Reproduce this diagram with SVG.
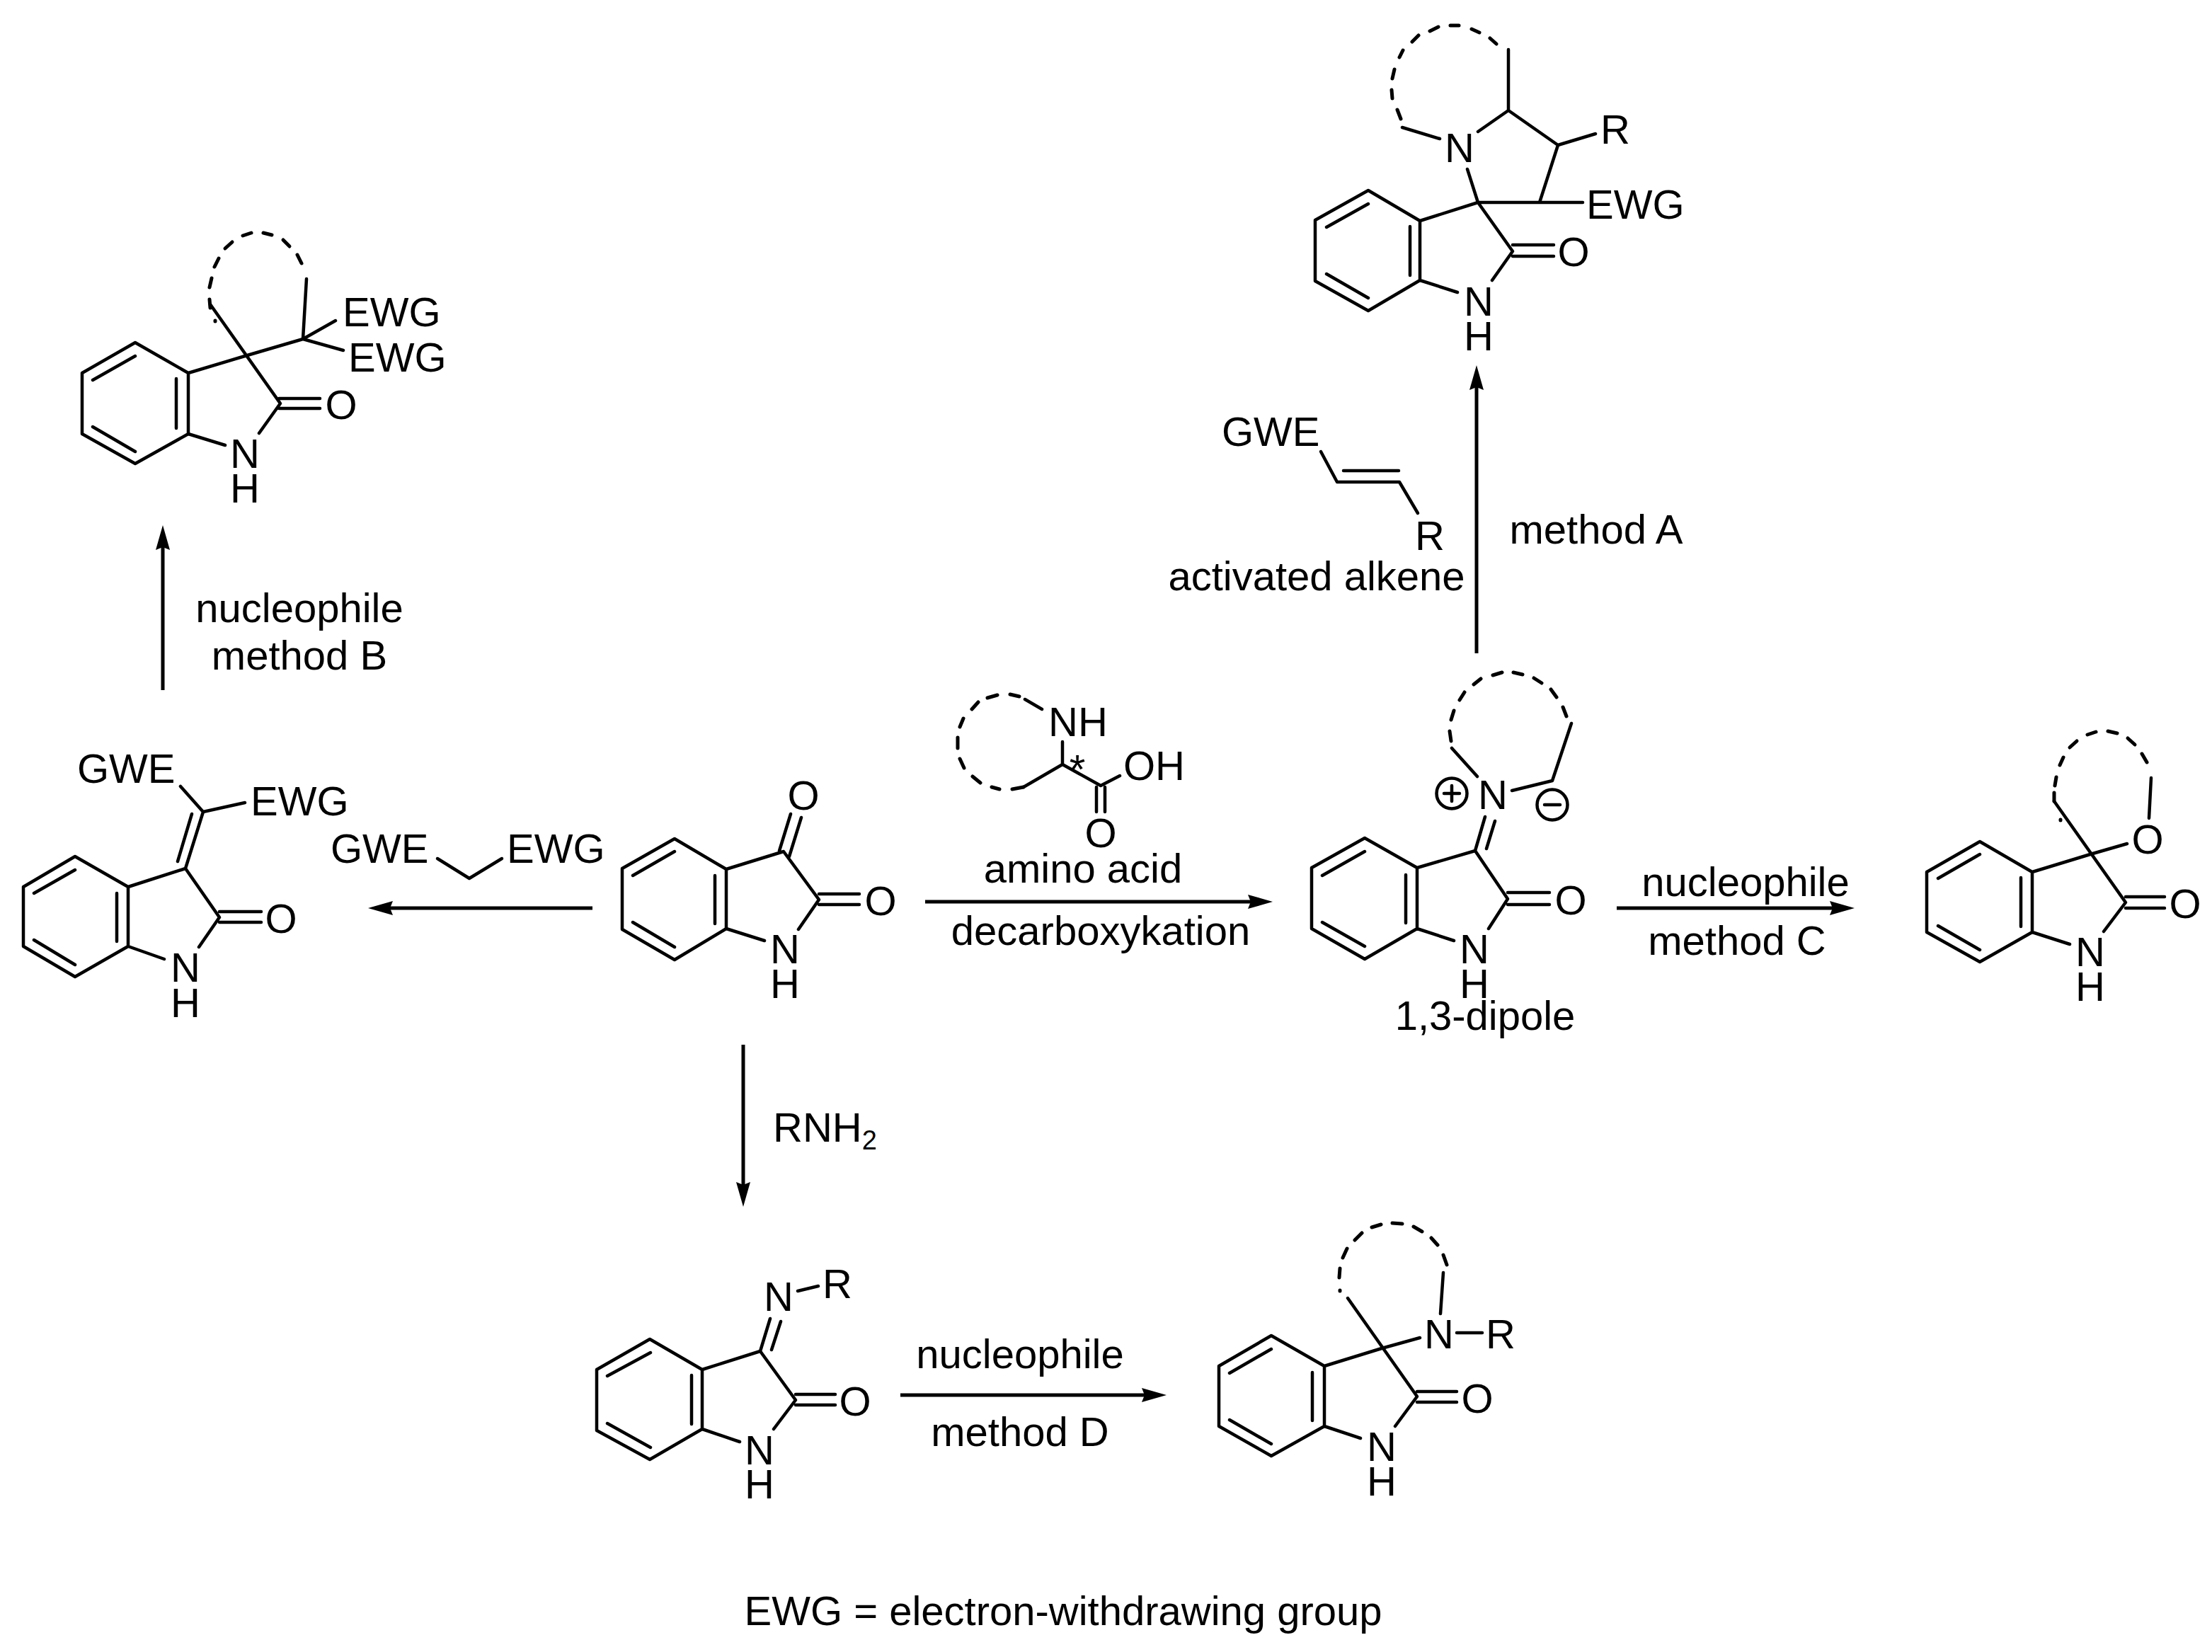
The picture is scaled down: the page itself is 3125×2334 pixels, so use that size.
<svg xmlns="http://www.w3.org/2000/svg" width="3125" height="2334" viewBox="0 0 3125 2334">
<style>
.b{fill:none;stroke:#000;stroke-width:4.5;stroke-linecap:round;stroke-linejoin:round}
.d{fill:none;stroke:#000;stroke-width:5;stroke-linecap:round}
.a{fill:none;stroke:#000;stroke-width:5;marker-end:url(#ah)}
text{font-family:"Liberation Sans",Arial,sans-serif;font-size:58px;fill:#000}
.m{text-anchor:middle}
.s{font-size:38px}
</style>
<defs>
<marker id="ah" markerUnits="userSpaceOnUse" markerWidth="36" markerHeight="22" refX="4" refY="11" orient="auto">
<path d="M0,1L4,11L0,21L35,11Z" fill="#000"/>
</marker>
</defs>
<rect width="3125" height="2334" fill="#fff"/>

<g id="connectors">
<path class="a" d="M2086,923V547"/>
<path class="a" d="M230,975V773"/>
<path class="a" d="M837,1283H551"/>
<path class="a" d="M1307,1274H1767"/>
<path class="a" d="M2284,1283H2589"/>
<path class="a" d="M1050,1476V1674"/>
<path class="a" d="M1272,1971H1617"/>
</g>

<g id="product-A">
<path class="b" d="M1933,269L1858,311V397L1933,439L2006,396V312ZM1933,288L1874,321M1992,320V389M1874,387L1933,421M2006,312L2088,286L2137,355L2108,396M2006,396L2059,413M2137,346H2195M2137,362H2195M2073,239L2088,286H2236M2175,286L2201,205L2131,156L2088,186M2131,156V70M2201,205L2254,189M1981,180L2034,196"/>
<path class="d" d="M1979,168L1974,155M1967,139L1966,127M1967,111L1970,98M1977,81L1982,71M1995,59L2004,50M2020,44L2032,38M2049,36L2061,36M2079,41L2090,46M2105,54L2114,62"/>
<text class="m" x="2062" y="229">N</text>
<text class="m" x="2089" y="446">N</text>
<text class="m" x="2089" y="495">H</text>
<text class="m" x="2223" y="376">O</text>
<text x="2261" y="203">R</text>
<text x="2241" y="309">EWG</text>
</g>

<g id="product-B">
<path class="b" d="M191,484L116,527V613L191,655L266,613V527ZM191,503L131,537M249,535V605M131,603L191,638M266,527L346,503L428,479L433,394M428,479L474,453M428,479L485,495M297,430L396,570L366,612M266,613L318,629M394,563H452M394,577H452"/>
<path class="d" d="M304,453L304,454M296,423L297,435M296,406L299,393M303,377L309,365M318,351L328,342M343,333L355,329M372,329L384,332M400,339L409,348M420,360L426,372"/>
<text class="m" x="346" y="661">N</text>
<text class="m" x="346" y="710">H</text>
<text class="m" x="482" y="592">O</text>
<text x="484" y="461">EWG</text>
<text x="492" y="525">EWG</text>
</g>

<g id="label-B">
<text class="m" x="423" y="879">nucleophile</text>
<text class="m" x="423" y="946">method B</text>
</g>

<g id="alkylidene-C">
<path class="b" d="M106,1210L33,1253V1337L106,1380L181,1337V1253ZM106,1229L48,1262M165,1262V1330M48,1328L106,1363M181,1253L262,1227L310,1296L281,1338M181,1337L232,1355M262,1227L287,1147L255,1111M287,1147L346,1134M251,1217L271,1150M310,1288H369M310,1303H369"/>
<text class="m" x="397" y="1318">O</text>
<text class="m" x="262" y="1387">N</text>
<text class="m" x="262" y="1437">H</text>
<text x="109" y="1106">GWE</text>
<text x="354" y="1152">EWG</text>
</g>

<g id="malonate">
<path class="b" d="M618,1213L663,1241L709,1213"/>
<text x="467" y="1219">GWE</text>
<text x="716" y="1219">EWG</text>
</g>

<g id="isatin">
<path class="b" d="M953,1185L879,1227V1313L953,1356L1026,1312V1228ZM953,1203L894,1237M1010,1237V1305M894,1303L953,1338M1026,1228L1107,1203L1157,1271L1128,1313M1026,1312L1080,1329M1101,1202L1117,1150M1115,1210L1132,1155M1157,1263H1214M1157,1278H1214"/>
<text class="m" x="1135" y="1144">O</text>
<text class="m" x="1244" y="1293">O</text>
<text class="m" x="1109" y="1361">N</text>
<text class="m" x="1109" y="1410">H</text>
</g>

<g id="amino-acid">
<path class="b" d="M1501,1048V1080L1446,1112M1501,1080L1555,1110L1582,1096M1549,1112V1147M1561,1112V1147M1472,1002L1448,988"/>
<path class="d" d="M1440,984L1427,981M1409,982L1395,986M1382,992L1373,1002M1361,1015L1356,1027M1353,1042L1353,1057M1356,1072L1362,1085M1374,1097L1385,1106M1401,1112L1412,1115M1430,1115L1446,1112"/>
<text x="1481" y="1040">NH</text>
<text class="m" x="1522" y="1107">*</text>
<text x="1587" y="1102">OH</text>
<text class="m" x="1555" y="1197">O</text>
<text class="m" x="1530" y="1247">amino acid</text>
<text class="m" x="1555" y="1335">decarboxykation</text>
</g>

<g id="dipole">
<path class="b" d="M1928,1184L1853,1226V1312L1928,1355L2002,1312V1226ZM1928,1203L1868,1237M1986,1236V1304M1868,1303L1928,1337M2002,1226L2084,1202L2130,1270L2103,1312M2002,1312L2054,1329M2084,1202L2098,1154M2100,1199L2112,1160M2130,1261H2189M2130,1278H2189M2051,1057L2087,1097M2136,1117L2193,1103L2220,1022"/>
<path class="d" d="M2050,1047L2048,1033M2050,1017L2054,1004M2062,989L2069,978M2082,967L2092,959M2109,954L2122,950M2138,950L2151,953M2167,958L2178,965M2191,974L2199,985M2208,999L2213,1012"/>
<circle class="b" cx="2051" cy="1121" r="21.500"/>
<path class="b" d="M2040,1121H2062M2051,1110V1132"/>
<circle class="b" cx="2193" cy="1137" r="21.500"/>
<path class="b" d="M2182,1137H2204"/>
<text class="m" x="2109" y="1143">N</text>
<text class="m" x="2219" y="1292">O</text>
<text class="m" x="2083" y="1361">N</text>
<text class="m" x="2083" y="1410">H</text>
<text class="m" x="2098" y="1455">1,3-dipole</text>
</g>

<g id="alkene">
<path class="b" d="M1866,638L1889,681H1977L2003,725M1898,665H1976"/>
<text x="1726" y="630">GWE</text>
<text x="1999" y="777">R</text>
<text class="m" x="1860" y="834">activated alkene</text>
<text class="m" x="2255" y="768">method A</text>
</g>

<g id="label-C">
<text class="m" x="2466" y="1266">nucleophile</text>
<text class="m" x="2454" y="1349">method C</text>
</g>

<g id="product-C">
<path class="b" d="M2797,1189L2722,1232V1317L2797,1359L2871,1317V1232ZM2797,1207L2738,1241M2855,1240V1309M2738,1308L2797,1342M2902,1132L3003,1275L2972,1316M2871,1317L2924,1334M2871,1232L2953,1207L3005,1192M3036,1156L3039,1099M3003,1267H3058M3003,1283H3058"/>
<path class="d" d="M2911,1158L2911,1159M2902,1120L2902,1132M2903,1110L2905,1098M2910,1081L2915,1070M2924,1056L2934,1047M2949,1038L2961,1034M2978,1033L2991,1036M3006,1043L3016,1052M3026,1065L3033,1077"/>
<text class="m" x="3034" y="1206">O</text>
<text class="m" x="3087" y="1297">O</text>
<text class="m" x="2953" y="1365">N</text>
<text class="m" x="2953" y="1414">H</text>
</g>

<g id="label-RNH2">
<text x="1092" y="1613">RNH<tspan class="s" dy="11">2</tspan></text>
</g>

<g id="imine">
<path class="b" d="M918,1892L843,1935V2021L918,2062L992,2019V1935ZM919,1911L858,1944M977,1943V2012M858,2011L919,2045M992,1935L1074,1909L1124,1978L1093,2019M992,2019L1045,2037M1074,1909L1088,1863M1090,1907L1103,1867M1127,1824L1156,1817M1124,1970H1180M1124,1985H1180"/>
<text class="m" x="1100" y="1852">N</text>
<text x="1162" y="1834">R</text>
<text class="m" x="1208" y="2000">O</text>
<text class="m" x="1073" y="2069">N</text>
<text class="m" x="1073" y="2117">H</text>
</g>

<g id="label-D">
<text class="m" x="1441" y="1933">nucleophile</text>
<text class="m" x="1441" y="2043">method D</text>
</g>

<g id="product-D">
<path class="b" d="M1796,1887L1722,1930V2015L1796,2057L1871,2015V1930ZM1796,1906L1737,1940M1854,1939V2007M1737,2006L1796,2040M1871,1930L1952,1905L2006,1890M1904,1834L2002,1973L1971,2015M1871,2015L1922,2032M2002,1966H2058M2002,1981H2058M2035,1856L2039,1798M2058,1883H2094"/>
<path class="d" d="M1893,1823L1893,1824M1892,1805L1893,1792M1897,1777L1903,1764M1914,1752L1924,1742M1938,1734L1951,1730M1967,1728L1981,1729M1997,1733L2009,1740M2022,1749L2031,1759M2039,1773L2044,1787"/>
<text class="m" x="2033" y="1905">N</text>
<text x="2099" y="1905">R</text>
<text class="m" x="2087" y="1996">O</text>
<text class="m" x="1952" y="2064">N</text>
<text class="m" x="1952" y="2113">H</text>
</g>

<g id="footnote">
<text class="m" x="1502" y="2296">EWG = electron-withdrawing group</text>
</g>
</svg>
